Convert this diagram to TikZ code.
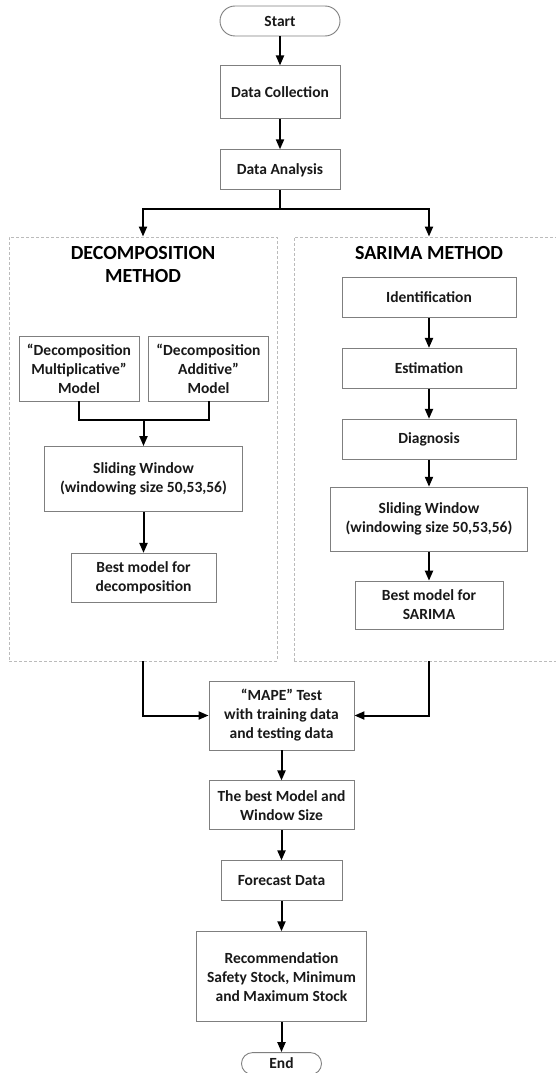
\documentclass[tikz,border=0pt]{standalone}
\usepackage{fontspec}
\setmainfont{Carlito}
\usetikzlibrary{positioning, arrows.meta}
\definecolor{boxline}{HTML}{7F7F7F}
\definecolor{frameline}{HTML}{BBBBBB}

\begin{document}
\begin{tikzpicture}[
		x=1pt, y=1pt,
		>={Triangle[length=10pt, width=8pt]},
		font=\bfseries\fontsize{15.5}{19}\selectfont,
		process/.style={draw=boxline, line width=0.9pt, fill=white, align=center, inner sep=0pt, text=black!90},
		terminal/.style={process, rounded corners=11pt},
		frame/.style={draw=frameline, line width=0.9pt, dash pattern=on 3pt off 2pt, inner sep=0pt},
		title/.style={align=center, font=\bfseries\fontsize{20}{23.5}\selectfont},
		flow/.style={->, line width=2pt},
		link/.style={line width=2pt}
		]
		\useasboundingbox (0,0) rectangle (555,-1073);
		
		% ==========================================
		% TOP: Start and data preparation
		% ==========================================
		\node (start) [terminal, rounded corners=15pt, minimum width=120pt, minimum height=30pt] at (280,-21) {Start};
		\node (datacoll) [process, below=29pt of start, minimum width=120pt, minimum height=53pt] {Data Collection};
		\node (dataana) [process, below=30pt of datacoll, minimum width=120pt, minimum height=40pt] {Data Analysis};
		
		\draw[flow] (start) -- (datacoll);
		\draw[flow] (datacoll) -- (dataana);
		
		% ==========================================
		% The two method frames
		% ==========================================
		\node (decoframe) [frame, minimum width=268pt, minimum height=424pt] at (143,-449) {};
		\node (sarimaframe) [frame, minimum width=270pt, minimum height=424pt] at (429,-449) {};
		
		\coordinate [below=19pt of dataana.south] (split);
		\draw[link] (dataana) -- (split);
		\draw[flow] (split) -| (decoframe);
		\draw[flow] (split) -| (sarimaframe);
		
		% ==========================================
		% LEFT: Decomposition method
		% ==========================================
		\node (decotitle) [title] at (143,-264.5) {DECOMPOSITION\\METHOD};
		
		\node (multmodel) [process, minimum width=120pt, minimum height=65pt] at (79,-368.5) {“Decomposition\\Multiplicative”\\Model};
		\node (addmodel) [process, minimum width=120pt, minimum height=65pt] at (208.5,-368.5) {“Decomposition\\Additive”\\Model};
		\node (swdeco) [process, minimum width=198pt, minimum height=65pt] at (143.5,-479) {Sliding Window\\(windowing size 50,53,56)};
		\node (bestdeco) [process, below=41pt of swdeco, minimum width=145pt, minimum height=49pt] {Best model for\\decomposition};
		
		\coordinate (join) at (swdeco.north |- 0,-420);
		\draw[link] (multmodel) |- (join) -| (addmodel);
		\draw[flow] (join) -- (swdeco);
		\draw[flow] (swdeco) -- (bestdeco);
		
		% ==========================================
		% RIGHT: SARIMA method
		% ==========================================
		\node (sarimatitle) [title] at (429,-252.7) {SARIMA METHOD};
		
		\node (ident) [process, minimum width=174pt, minimum height=40pt] at (429,-297.5) {Identification};
		\node (estim) [process, below=30pt of ident, minimum width=174pt, minimum height=40pt] {Estimation};
		\node (diag) [process, below=30pt of estim, minimum width=174pt, minimum height=40pt] {Diagnosis};
		\node (swsarima) [process, below=27pt of diag, minimum width=197pt, minimum height=64pt] {Sliding Window\\(windowing size 50,53,56)};
		\node (bestsarima) [process, below=29pt of swsarima, minimum width=148pt, minimum height=48pt] {Best model for\\SARIMA};
		
		\draw[flow] (ident) -- (estim);
		\draw[flow] (estim) -- (diag);
		\draw[flow] (diag) -- (swsarima);
		\draw[flow] (swsarima) -- (bestsarima);
		
		% ==========================================
		% BOTTOM: Testing and result
		% ==========================================
		\node (mape) [process, minimum width=145pt, minimum height=69pt] at (281.5,-715.5) {“MAPE” Test\\with training data\\and testing data};
		\node (bestmodel) [process, below=30pt of mape, minimum width=145pt, minimum height=49pt] {The best Model and\\Window Size};
		\node (forecast) [process, below=30pt of bestmodel, minimum width=121pt, minimum height=40pt] {Forecast Data};
		\node (recommend) [process, below=30pt of forecast, minimum width=170pt, minimum height=90pt] {Recommendation\\Safety Stock, Minimum\\and Maximum Stock};
		\node (end) [terminal, below=30pt of recommend, minimum width=80pt, minimum height=22pt] {End};
		
		\draw[flow] (decoframe) |- (mape);
		\draw[flow] (sarimaframe) |- (mape);
		\draw[flow] (mape) -- (bestmodel);
		\draw[flow] (bestmodel) -- (forecast);
		\draw[flow] (forecast) -- (recommend);
		\draw[flow] (recommend) -- (end);
		
	\end{tikzpicture}
\end{document}
